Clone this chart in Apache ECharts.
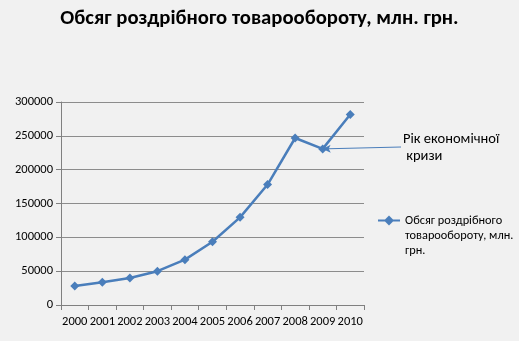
<!DOCTYPE html>
<html><head><meta charset="utf-8">
<script src="https://cdn.jsdelivr.net/npm/echarts@6/dist/echarts.min.js"></script>
<style>html,body{margin:0;padding:0;background:#f1f1f1;}#c{width:519px;height:341px;}</style>
</head><body><div id="c"></div>
<script>
const years = ['2000','2001','2002','2003','2004','2005','2006','2007','2008','2009','2010'];
const turnover = [28000, 33700, 40000, 50000, 67000, 93400, 129500, 178000, 246800, 230700, 281600];
const yTicks = [0, 50000, 100000, 150000, 200000, 250000, 300000];
const seriesName = 'Обсяг роздрібного товарообороту, млн. грн.';
const legendLines = ['Обсяг роздрібного', 'товарообороту, млн.', 'грн.'];
const titleText = 'Обсяг роздрібного товарообороту, млн. грн.';
const noteText = 'Рік економічної\n кризи';
const crisisIndex = 9;

const font = 'Carlito, "Open Sans", "Noto Sans", sans-serif';
const chart = echarts.init(document.getElementById('c'), null, {renderer: 'canvas'});
chart.setOption({
  backgroundColor: '#f1f1f1',
  animation: false,
  title: {text: titleText, left: 'center', top: 3,
    textStyle: {fontFamily: font, fontWeight: 'bold', fontSize: 20.7, color: '#000'}},
  grid: {left: 61, right: 155, top: 102, bottom: 36},
  legend: {
    left: 373, top: 178, orient: 'vertical', itemWidth: 22, itemHeight: 10, itemGap: 4,
    textStyle: {fontFamily: font, fontSize: 12.3, color: '#000', lineHeight: 15},
    formatter: () => ['', ''].concat(legendLines).join('\n'),
    data: [{name: seriesName, icon: 'path://M0,4 L7,4 L11,0 L15,4 L22,4 L22,6 L15,6 L11,10 L7,6 L0,6Z'}]
  },
  xAxis: {
    type: 'category', data: years, boundaryGap: true,
    axisLine: {lineStyle: {color: '#808080', width: 1}},
    axisTick: {show: true, length: 5, lineStyle: {color: '#808080'}},
    axisLabel: {fontFamily: font, fontSize: 12.5, color: '#000', margin: 10, interval: 0}
  },
  yAxis: {
    type: 'value', min: yTicks[0], max: yTicks[yTicks.length - 1], interval: yTicks[1] - yTicks[0],
    axisLine: {show: true, lineStyle: {color: '#808080'}},
    axisTick: {show: true, length: 5, lineStyle: {color: '#808080'}},
    axisLabel: {fontFamily: font, fontSize: 12.5, color: '#000', margin: 8, formatter: v => String(v)},
    splitLine: {lineStyle: {color: '#8c8c8c', width: 1}}
  },
  series: [{
    name: seriesName, type: 'line', data: turnover,
    symbol: 'diamond', symbolSize: 9,
    lineStyle: {color: '#4a7ebb', width: 2.5},
    itemStyle: {color: '#4a7ebb'},
    markLine: {
      silent: true, symbol: ['none', 'arrow'], symbolSize: [6, 8],
      lineStyle: {color: '#4a7ebb', width: 1, type: 'solid'},
      label: {show: false},
      data: [[{x: 401, y: 147}, {coord: [years[crisisIndex], turnover[crisisIndex]]}]]
    }
  }],
  graphic: [{
    type: 'text', left: 403, top: 131,
    style: {text: noteText, fontFamily: font, fontSize: 14.5, fill: '#000', lineHeight: 17}
  }]
});
</script></body></html>
